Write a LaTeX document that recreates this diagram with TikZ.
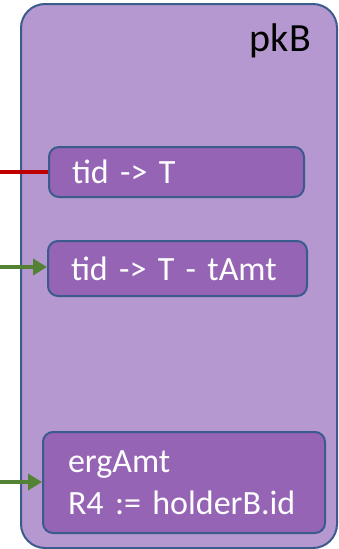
\documentclass[tikz,border=0pt]{standalone}
\usepackage{fontspec}
\setmainfont[WordSpace=0.85]{Carlito}
\usetikzlibrary{arrows.meta}
\definecolor{outerfill}{HTML}{B598CF}
\definecolor{innerfill}{HTML}{9564B5}
\definecolor{edgeblue}{HTML}{3A5B8C}
\definecolor{redline}{HTML}{C00000}
\definecolor{greenline}{HTML}{548235}
\begin{document}
\begin{tikzpicture}[x=1pt,y=-1pt,
  outerbox/.style={draw=edgeblue,line width=2pt,fill=outerfill,rounded corners=24pt,inner sep=0pt},
  innerbox/.style={draw=edgeblue,line width=2pt,fill=innerfill,rounded corners=10pt,text=white,
     font=\fontsize{34}{42}\selectfont,align=left,inner ysep=0pt},
  conn/.style={line width=3.5pt},
  garrow/.style={conn,greenline,-{Triangle[length=14pt,width=16pt]}}]
\useasboundingbox (0,0) rectangle (339,549);
\node[outerbox,minimum width=316pt,minimum height=544pt] (pk) at (179,276) {};
\node[font=\fontsize{40}{48}\selectfont,anchor=base east,inner sep=0pt] (lbl) at (311,51) {pkB};
\node[innerbox,minimum width=255pt,minimum height=50pt,text width=209pt,inner xsep=23pt] (b1) at (176.5,172) {\mbox{tid -> T}};
\node[innerbox,minimum width=259pt,minimum height=55pt,text width=213pt,inner xsep=23pt] (b2) at (177.5,268.5) {\mbox{tid -> T - tAmt}};
\node[innerbox,minimum width=282pt,minimum height=101pt,text width=232pt,inner xsep=25pt] (b3) at (184,482.5) {\mbox{ergAmt}\\\mbox{R4 := holderB.id}};
\coordinate (s1) at (0,172);
\coordinate (s2) at (0,267);
\coordinate (s3) at (0,482);
\draw[conn,redline] (s1) -- (b1.west);
\draw[garrow] (s2) -- (s2 -| b2.west);
\draw[garrow] (s3) -- (s3 -| b3.west);
\end{tikzpicture}
\end{document}
